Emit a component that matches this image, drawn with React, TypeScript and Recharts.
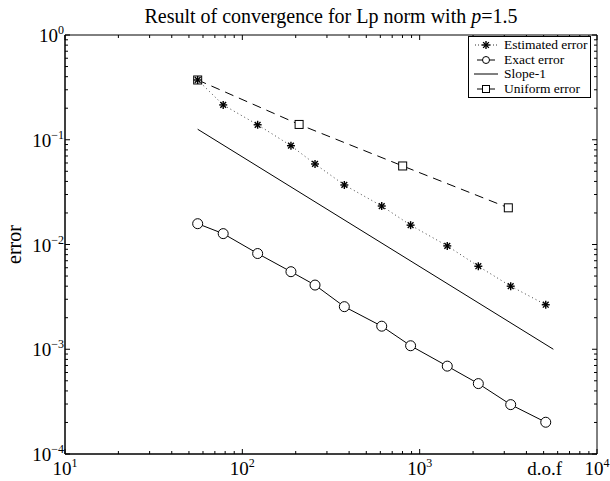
import React from 'react';
import { ComposedChart, Line, XAxis, YAxis, ReferenceArea, Legend } from 'recharts';

// degrees of freedom of the adaptive meshes
const dofs = [56, 78, 122, 188, 257, 376, 611, 889, 1431, 2142, 3261, 5140];
const estimatedError = [0.372, 0.215, 0.139, 0.0877, 0.0587, 0.037, 0.0233, 0.0153, 0.0097, 0.0062, 0.004, 0.00266];
const exactError = [0.0158, 0.0127, 0.0082, 0.0055, 0.0041, 0.00255, 0.00166, 0.00108, 0.00069, 0.00047, 0.000296, 0.000201];
// uniform refinement
const uniformDofs = [56, 209, 802, 3162];
const uniformError = [0.372, 0.14, 0.0562, 0.0224];
// reference slope
const slopeDofs = [56, 5675];
const slopeValues = [0.126, 0.001];

const xDecades = [10, 100, 1000];
const yDecades = [0.0001, 0.001, 0.01, 0.1];
const minorSteps = [1, 2, 3, 4, 5, 6, 7, 8, 9];
const seriesNames = ['Estimated error', 'Exact error', 'Slope-1', 'Uniform error'];

const xTicks = [...xDecades.flatMap((d) => minorSteps.map((m) => d * m)), 10000];
const yTicks = [...yDecades.flatMap((d) => minorSteps.map((m) => +(d * m).toPrecision(3))), 1];

const estData = dofs.map((x, i) => ({ x, y: estimatedError[i] }));
const exactData = dofs.map((x, i) => ({ x, y: exactError[i] }));
const uniformData = uniformDofs.map((x, i) => ({ x, y: uniformError[i] }));
const slopeData = slopeDofs.map((x, i) => ({ x, y: slopeValues[i] }));

const FONT = '"Liberation Serif", "Times New Roman", serif';
const PLOT_W = 532;
const PLOT_H = 419;

const isMajor = (v: number) => {
  const e = Math.log10(v);
  return Math.abs(e - Math.round(e)) < 1e-6;
};

const expLabel = (v: number) => {
  const e = Math.round(Math.log10(v));
  return e < 0 ? '\u2212' + Math.abs(e) : String(e);
};

function XTick({ x, y, payload }: any) {
  const major = isMajor(payload.value);
  const len = major ? 5 : 3;
  return (
    <g>
      <line x1={x} x2={x} y1={y} y2={y - len} stroke="#000" />
      <line x1={x} x2={x} y1={y - PLOT_H} y2={y - PLOT_H + len} stroke="#000" />
      {major && (
        <text x={x} y={y + 21} textAnchor="middle" fontSize={19} fontFamily={FONT} fill="#000">
          10<tspan dy={-8} fontSize={12}>{expLabel(payload.value)}</tspan>
        </text>
      )}
    </g>
  );
}

function YTick({ x, y, payload }: any) {
  const major = isMajor(payload.value);
  const len = major ? 5 : 3;
  return (
    <g>
      <line x1={x} x2={x + len} y1={y} y2={y} stroke="#000" />
      <line x1={x + PLOT_W} x2={x + PLOT_W - len} y1={y} y2={y} stroke="#000" />
      {major && (
        <text x={x - 1} y={y + 7} textAnchor="end" fontSize={19} fontFamily={FONT} fill="#000">
          10<tspan dy={-8} fontSize={12}>{expLabel(payload.value)}</tspan>
        </text>
      )}
    </g>
  );
}

function StarDot({ cx, cy }: any) {
  if (cx == null || cy == null) return null;
  const r = 4;
  const d = r * 0.72;
  return (
    <g stroke="#000" strokeWidth={1.4}>
      <line x1={cx - r} x2={cx + r} y1={cy} y2={cy} />
      <line x1={cx} x2={cx} y1={cy - r} y2={cy + r} />
      <line x1={cx - d} x2={cx + d} y1={cy - d} y2={cy + d} />
      <line x1={cx - d} x2={cx + d} y1={cy + d} y2={cy - d} />
    </g>
  );
}

function SquareDot({ cx, cy }: any) {
  if (cx == null || cy == null) return null;
  return <rect x={cx - 4} y={cy - 4} width={8} height={8} fill="#fff" stroke="#000" />;
}

function LegendBox() {
  const samples = [
    <g key="e">
      <line x1={1} x2={23} y1={7} y2={7} stroke="#333" strokeDasharray="1 2" />
      <StarDot cx={12} cy={7} />
    </g>,
    <g key="x">
      <line x1={3} x2={21} y1={7} y2={7} stroke="#000" />
      <circle cx={12} cy={7} r={3.5} fill="#fff" stroke="#000" />
    </g>,
    <line key="s" x1={0} x2={24} y1={7} y2={7} stroke="#000" />,
    <g key="u">
      <line x1={3} x2={21} y1={7} y2={7} stroke="#000" />
      <rect x={8.5} y={3.5} width={7} height={7} fill="#fff" stroke="#000" />
    </g>,
  ];
  return (
    <div
      style={{
        border: '1px solid #000',
        background: '#fff',
        width: 121,
        height: 59,
        boxSizing: 'content-box',
        fontFamily: FONT,
        fontSize: 13.5,
        lineHeight: '14.5px',
        paddingTop: 1,
        whiteSpace: 'nowrap',
        overflow: 'hidden',
      }}
    >
      {seriesNames.map((name, i) => (
        <div key={name} style={{ display: 'flex', alignItems: 'center', height: 14.5 }}>
          <svg width={24} height={14} style={{ marginLeft: 5, marginRight: 6, flex: 'none' }}>
            {samples[i]}
          </svg>
          <span>{name}</span>
        </div>
      ))}
    </div>
  );
}

export default function App() {
  return (
    <div style={{ position: 'absolute', left: 0, top: 0, width: 610, height: 481, background: '#fff' }}>
      <ComposedChart width={610} height={481} margin={{ top: 35, right: 13, bottom: 0, left: 5 }}>
        <text x={331} y={23} textAnchor="middle" fontSize={20} fontFamily={FONT} fill="#000">
          Result of convergence for Lp norm with <tspan fontStyle="italic">p</tspan>=1.5
        </text>
        <XAxis
          dataKey="x"
          type="number"
          scale="log"
          domain={[10, 10000]}
          ticks={xTicks}
          interval={0}
          allowDataOverflow
          height={27}
          tickSize={0}
          tickMargin={0}
          tickLine={false}
          axisLine={{ stroke: '#000' }}
          tick={<XTick />}
          label={({ viewBox }: any) => (
            <text x={viewBox.x + viewBox.width - 35} y={viewBox.y + 21} textAnchor="end" fontSize={19} fontFamily={FONT} fill="#000">
              d.o.f
            </text>
          )}
        />
        <YAxis
          type="number"
          scale="log"
          domain={[0.0001, 1]}
          ticks={yTicks}
          interval={0}
          allowDataOverflow
          width={60}
          tickSize={0}
          tickMargin={0}
          tickLine={false}
          axisLine={{ stroke: '#000' }}
          tick={<YTick />}
          label={({ viewBox }: any) => (
            <text
              x={viewBox.x + 16}
              y={viewBox.y + viewBox.height / 2}
              transform={`rotate(-90, ${viewBox.x + 16}, ${viewBox.y + viewBox.height / 2})`}
              textAnchor="middle"
              fontSize={20}
              fontFamily={FONT}
              fill="#000"
            >
              error
            </text>
          )}
        />
        <ReferenceArea x1={10} x2={10000} y1={0.0001} y2={1} fill="none" stroke="#000" />
        <Line
          data={slopeData}
          dataKey="y"
          name={seriesNames[2]}
          stroke="#000"
          strokeWidth={1}
          dot={false}
          isAnimationActive={false}
        />
        <Line
          data={uniformData}
          dataKey="y"
          name={seriesNames[3]}
          stroke="#000"
          strokeWidth={1}
          strokeDasharray="9 6"
          dot={<SquareDot />}
          isAnimationActive={false}
        />
        <Line
          data={exactData}
          dataKey="y"
          name={seriesNames[1]}
          stroke="#000"
          strokeWidth={1}
          dot={{ r: 5, fill: '#fff', stroke: '#000', strokeWidth: 1 }}
          isAnimationActive={false}
        />
        <Line
          data={estData}
          dataKey="y"
          name={seriesNames[0]}
          stroke="#444"
          strokeWidth={1}
          strokeDasharray="1 3"
          dot={<StarDot />}
          isAnimationActive={false}
        />
        <Legend
          layout="vertical"
          align="center"
          verticalAlign="middle"
          wrapperStyle={{ position: 'absolute', left: 468, top: 36, width: 123, height: 61 }}
          content={() => <LegendBox />}
        />
      </ComposedChart>
    </div>
  );
}
